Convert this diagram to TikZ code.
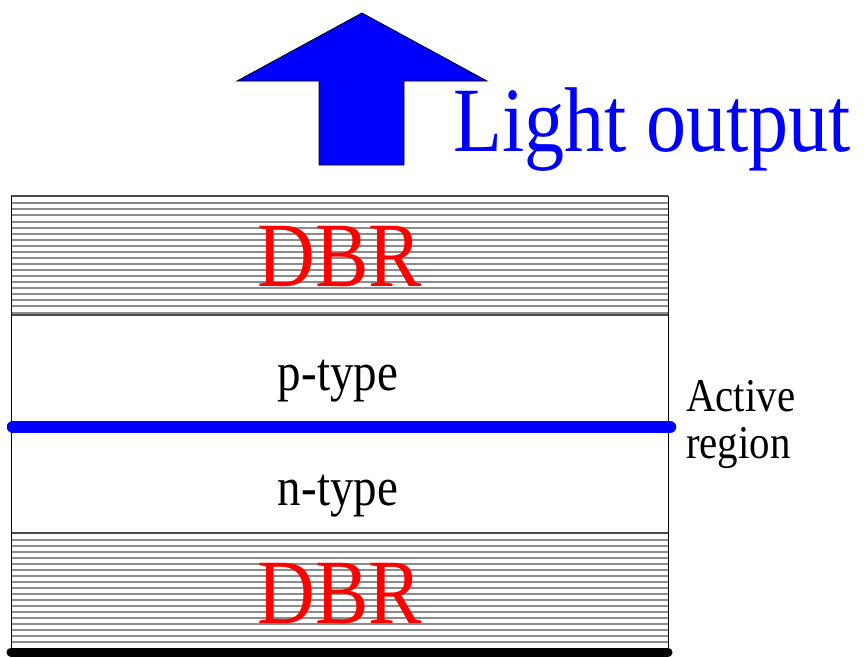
\documentclass[tikz,border=0pt]{standalone}
\usepackage{fontspec}
\setmainfont[FakeStretch=0.87]{Liberation Serif}
\begin{document}
\begin{tikzpicture}[x=1pt,y=-1pt,
  mirror/.style={draw=gray!90, line width=2pt},
  edge/.style={draw=black, line width=1pt},
  layerlabel/.style={inner sep=0pt, anchor=base, font=\fontsize{54}{60}\selectfont},
  sidelabel/.style={inner sep=0pt, anchor=base west, font=\fontsize{47}{52}\selectfont},
  dbrlabel/.style={inner sep=0pt, anchor=base, text=red, font=\fontsize{92}{100}\selectfont}]
\useasboundingbox (0,0) rectangle (864,657);

% top mirror stack
\foreach \k in {0,...,18}
  \draw[mirror] (11,{203.3+6.07*\k}) -- (668,{203.3+6.07*\k});
% bottom mirror stack
\foreach \k in {0,...,17}
  \draw[mirror] (11,{540.2+6.0*\k}) -- (668,{540.2+6.0*\k});

% layer boundaries
\draw[draw=black!70, line width=1.5pt] (11,196) -- (668,196);
\draw[draw=black!70, line width=1.5pt] (11,315) -- (668,315);
\draw[draw=black!70, line width=1.5pt] (11,533) -- (668,533);
\draw[edge] (11,196) -- (11,651);
\draw[edge] (668,196) -- (668,651);

% substrate
\draw[line width=9pt, line cap=round] (11,652) -- (668,652);

% active region
\draw[blue, line width=12.5pt, line cap=round] (13,427) -- (670,427);

% output arrow
\filldraw[fill=blue, draw=black, line width=0.8pt]
  (362,13) -- (487,81) -- (404,81) -- (404,165) -- (319,165) -- (319,81) -- (237,81) -- cycle;

% labels
\node[inner sep=0pt, anchor=base west, text=blue, font=\fontsize{92}{100}\selectfont]
  (light) at (453,151) {Light output};
\node[dbrlabel] (dbrtop) at (340,286) {DBR};
\node[dbrlabel] (dbrbot) at (340,623) {DBR};
\node[layerlabel] (ptype) at (338,390) {p-type};
\node[layerlabel] (ntype) at (338,505) {n-type};
\node[sidelabel] (active) at (686,411) {Active};
\node[sidelabel] (region) at (686,458) {region};
\end{tikzpicture}
\end{document}
